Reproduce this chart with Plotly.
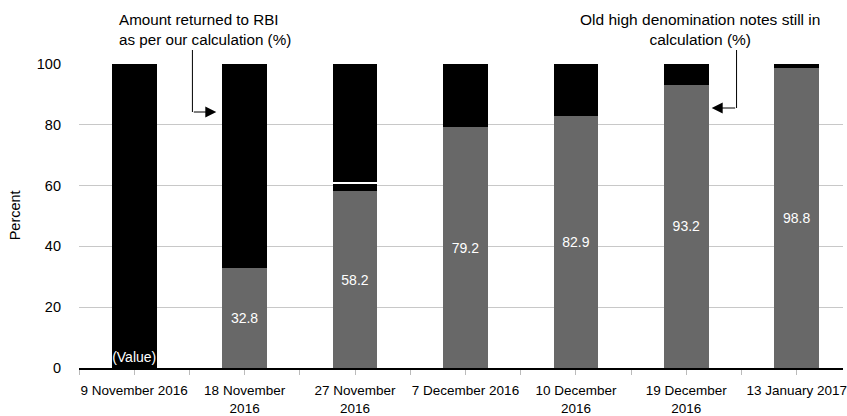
import plotly.graph_objects as go

categories = ["9 November 2016", "18 November<br>2016", "27 November<br>2016",
              "7 December 2016", "10 December<br>2016", "19 December<br>2016",
              "13 January 2017"]
returned = [0, 32.8, 58.2, 79.2, 82.9, 93.2, 98.8]
still_lower = [100, 67.2, 2.6, 20.8, 17.1, 6.8, 1.2]
still_gap = [None, None, 0.4, None, None, None, None]
still_upper = [None, None, 38.8, None, None, None, None]
returned_text = ["", "32.8", "58.2", "79.2", "82.9", "93.2", "98.8"]
still_text = ["(Value)", "", "", "", "", "", ""]

FONT = "Liberation Sans"
xpos = list(range(len(categories)))

L, T, B, W, H = 79, 64, 48, 847, 416
pw = W - L
ph = H - T - B
cat_px = 111


def px_x(p):
    return (p - L) / pw


def px_y(p):
    return (H - B - p) / ph


fig = go.Figure()
fig.add_trace(go.Bar(x=xpos, y=returned, marker=dict(color="#686868", line=dict(width=0)), width=0.405,
                     text=returned_text, textposition="inside", insidetextanchor="middle", textangle=0,
                     textfont=dict(color="white", size=14, family=FONT), constraintext="none",
                     name="returned"))
fig.add_trace(go.Bar(x=xpos, y=still_lower, marker=dict(color="#000000", line=dict(width=0)), width=0.405,
                     text=still_text, textposition="inside", insidetextanchor="start", textangle=0,
                     textfont=dict(color="white", size=14, family=FONT), constraintext="none",
                     name="still"))
fig.add_trace(go.Bar(x=xpos, y=still_gap, marker=dict(color="#ffffff", line=dict(width=0)),
                     width=0.405, name="gap"))
fig.add_trace(go.Bar(x=xpos, y=still_upper, marker=dict(color="#000000", line=dict(width=0)),
                     width=0.405, name="still2"))

fig.update_layout(
    barmode="stack", showlegend=False, width=W, height=H,
    margin=dict(l=L, r=0, t=T, b=B),
    plot_bgcolor="white", paper_bgcolor="white",
    font=dict(family=FONT, size=14, color="black"),
    xaxis=dict(range=[-0.5, -0.5 + pw / cat_px], tickmode="array", tickvals=xpos, ticktext=categories,
               ticks="outside", ticklen=5, tickcolor="#bbbbbb", tickfont=dict(size=13.5),
               ticklabeloverflow="allow", ticklabelstandoff=4,
               showline=True, linecolor="black", linewidth=1.5, showgrid=False, zeroline=False,
               minor=dict(tickmode="array", tickvals=[v - 0.5 for v in xpos], ticks="outside",
                          ticklen=5, tickcolor="#bbbbbb", showgrid=False)),
    yaxis=dict(range=[0, 100], tickvals=[0, 20, 40, 60, 80, 100], showgrid=True, gridcolor="#c8c8c8",
               gridwidth=1, zeroline=False, showline=False, ticks="", ticklabelstandoff=17,
               tickfont=dict(size=14.5)),
)

fig.add_annotation(text="Percent", textangle=-90, x=px_x(15), y=px_y(215), xref="paper", yref="paper",
                   xanchor="center", yanchor="middle", showarrow=False, font=dict(size=14.5))

fig.add_annotation(text="Amount returned to RBI<br>as per our calculation (%)", align="left",
                   x=px_x(117), xanchor="left", y=px_y(29), yanchor="middle", yref="paper", xref="paper",
                   showarrow=False, font=dict(size=15.2))
fig.add_annotation(text="Old high denomination notes still in<br>calculation (%)", align="center",
                   x=px_x(703), xanchor="center", y=px_y(29), yanchor="middle", yref="paper", xref="paper",
                   showarrow=False, font=dict(size=15.5))

fig.add_shape(type="line", xref="paper", yref="paper", x0=px_x(193), x1=px_x(193), y0=px_y(50), y1=px_y(112),
              line=dict(color="black", width=1))
fig.add_annotation(x=px_x(217), y=px_y(112), xref="paper", yref="paper", ax=-24, ay=0, text="",
                   showarrow=True, arrowhead=2, arrowsize=2.2, arrowwidth=1, arrowcolor="black")
fig.add_shape(type="line", xref="paper", yref="paper", x0=px_x(740), x1=px_x(740), y0=px_y(50), y1=px_y(108),
              line=dict(color="black", width=1))
fig.add_annotation(x=px_x(715), y=px_y(108), xref="paper", yref="paper", ax=25, ay=0, text="",
                   showarrow=True, arrowhead=2, arrowsize=2.2, arrowwidth=1, arrowcolor="black")

fig.write_html("out.html")
